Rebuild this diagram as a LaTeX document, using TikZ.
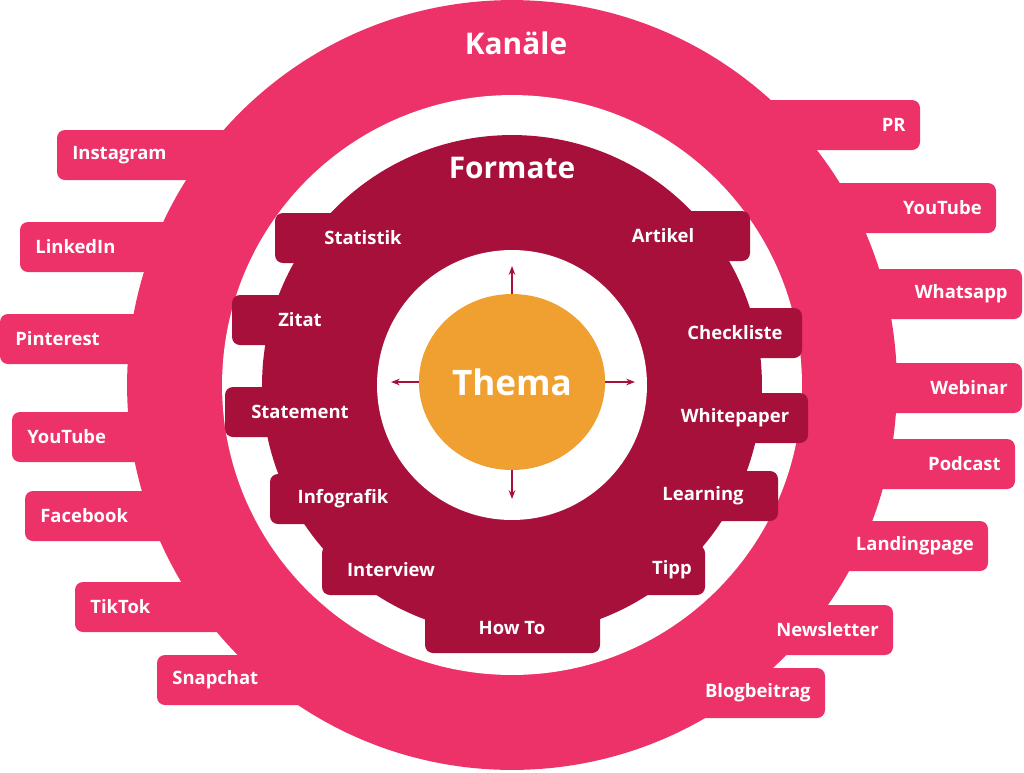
\documentclass[tikz,border=0pt]{standalone}
\usepackage{fontspec}
\setmainfont{Open Sans}
\usetikzlibrary{arrows.meta,shapes.geometric}
\definecolor{kanalpink}{HTML}{EC3269}
\definecolor{formatrot}{HTML}{A8103C}
\definecolor{themaorange}{HTML}{F0A030}
\tikzset{
  kanal/.style={fill=kanalpink,rounded corners=0.16cm},
  format/.style={fill=formatrot,rounded corners=0.16cm},
  lbl/.style={text=white,font=\bfseries\fontsize{10.5}{12}\selectfont,inner sep=0pt},
  titel/.style={text=white,font=\bfseries\fontsize{17}{20}\selectfont,inner sep=0pt},
  pfeil/.style={formatrot,thick,-{Stealth[length=5pt]}}
}
\begin{document}
\begin{tikzpicture}[x=0.02cm,y=-0.02cm]
  \useasboundingbox (0,0) rectangle (1024,772);
  \def\kanalelinks{57/155/Instagram,20/247/LinkedIn,0/339/Pinterest,12/437/YouTube,25/516/Facebook,75/607/TikTok,157/680/Snapchat}
  \def\kanalerechts{920/125/PR,996/208/YouTube,1022/294/Whatsapp,1022/388/Webinar,1015/464/Podcast,988/546/Landingpage,893/630/Newsletter,825/693/Blogbeitrag}
  \def\formatelinks{275/238/363/Statistik,232/320/300/Zitat,225/412/300/Statement,270/499/343/Infografik,322/570/391/Interview}
  \def\formaterechts{750/236/663/Artikel,802/333/735/Checkliste,808/418/735/Whitepaper,778/496/703/Learning,705/570/672/Tipp}
  % Kanaele
  \foreach \l/\m/\txt in \kanalelinks
    \fill[kanal] (\l,\m-25) rectangle (512,\m+25);
  \foreach \r/\m/\txt in \kanalerechts
    \fill[kanal] (512,\m-25) rectangle (\r,\m+25);
  \fill[kanalpink] (512,385) circle[radius=7.7cm];
  \fill[white] (512,385) circle[radius=5.8cm];
  % Formate
  \foreach \l/\m/\c/\txt in \formatelinks
    \fill[format] (\l,\m-25) rectangle (512,\m+25);
  \foreach \r/\m/\c/\txt in \formaterechts
    \fill[format] (512,\m-25) rectangle (\r,\m+25);
  \fill[format] (425,603) rectangle (600,653);
  \fill[formatrot] (512,385) circle[radius=5cm];
  \fill[white] (512,385) circle[radius=2.7cm];
  % Beschriftungen
  \foreach \l/\m/\txt [count=\i] in \kanalelinks
    \node[lbl,anchor=west] (kl-\i) at (\l+15,\m) {\txt};
  \foreach \r/\m/\txt [count=\i] in \kanalerechts
    \node[lbl,anchor=east] (kr-\i) at (\r-14,\m) {\txt};
  \foreach \l/\m/\c/\txt [count=\i] in \formatelinks
    \node[lbl] (fl-\i) at (\c,\m) {\txt};
  \foreach \r/\m/\c/\txt [count=\i] in \formaterechts
    \node[lbl] (fr-\i) at (\c,\m) {\txt};
  \node[lbl] (howto) at (512,628) {How To};
  \node[titel] (kanaele) at (516,43) {Kanäle};
  \node[titel] (formate) at (512,168) {Formate};
  % Thema
  \node[ellipse,fill=themaorange,minimum width=3.64cm,minimum height=3.52cm,
        text=white,font=\bfseries\fontsize{20}{24}\selectfont] (thema) at (512,382) {Thema};
  \coordinate (oben) at (512,266);
  \coordinate (unten) at (512,499);
  \coordinate (links) at (391,382);
  \coordinate (rechts) at (635,382);
  \draw[pfeil] (thema.north) -- (oben);
  \draw[pfeil] (thema.south) -- (unten);
  \draw[pfeil] (thema.west) -- (links);
  \draw[pfeil] (thema.east) -- (rechts);
\end{tikzpicture}
\end{document}
